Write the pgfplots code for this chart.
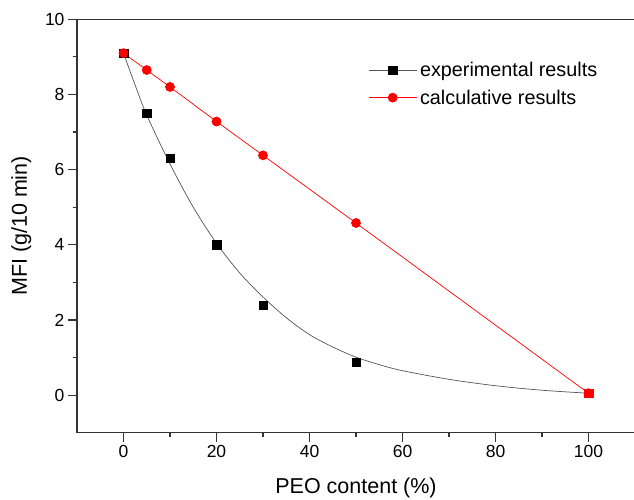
\documentclass[border=0pt]{standalone}
\usepackage{fontspec}
\setmainfont{Liberation Sans}
\usepackage{pgfplots}
\pgfplotsset{compat=1.18}
\definecolor{spine}{HTML}{333333}
\definecolor{fitline}{HTML}{555555}

\begin{document}
\begin{tikzpicture}
\begin{axis}[
  scale only axis,
  width=558pt, height=413.4pt,
  xmin=-10, xmax=110, ymin=-1, ymax=10,
  xtick={0,20,...,100}, ytick={0,2,...,10},
  minor x tick num=1, minor y tick num=1,
  xtick pos=bottom, ytick pos=left,
  tick align=outside,
  major tick length=9pt, minor tick length=4.5pt,
  axis line style={spine, line width=1.4pt},
  every tick/.style={spine, line width=1.2pt},
  /pgf/number format/assume math mode=true,
  tick label style={font=\fontsize{17.5}{20}\selectfont, black},
  xlabel={PEO content (\%)},
  ylabel={MFI (g/10 min)},
  label style={font=\fontsize{21.5}{25}\selectfont},
  xlabel style={at={(axis description cs:0.5,-0.134)}, anchor=center},
  ylabel style={at={(axis description cs:-0.1,0.5)}, anchor=center},
  legend image code/.code={\draw[mark repeat=2,mark phase=2,#1] plot coordinates {(0pt,0pt) (24pt,0pt) (48pt,0pt)};},
  legend style={at={(axis description cs:0.52,0.906)}, anchor=north west, draw=none, fill=none,
    font=\fontsize{19.8}{22}\selectfont, row sep=5.5pt, inner sep=1pt,
    nodes={inner sep=3pt}},
  legend cell align=left,
]

% fitted curve through the experimental values
\addplot[color=fitline, line width=0.7pt, smooth, forget plot]
  coordinates {
    (0,9.1)(2.5,8.25)(5,7.45)(10,6.15)(15,5.0)(20,4.04)(25,3.25)
    (30,2.61)(35,2.06)(40,1.61)(45,1.28)(50,1.01)(55,0.81)(60,0.65)(70,0.42)
    (80,0.25)(90,0.13)(100,0.05)
  };

\addplot[only marks, mark=square*, mark size=4.2pt, color=black, forget plot]
  coordinates {(0,9.1)(5,7.5)(10,6.3)(20,4.0)(30,2.4)(50,0.88)(100,0.05)};

\addplot[color=red, line width=0.7pt, mark=*, mark size=4.5pt, forget plot]
  coordinates {(0,9.1)(5,8.65)(10,8.2)(20,7.28)(30,6.38)(50,4.58)(100,0.05)};

\addplot[only marks, mark=square*, mark size=4.2pt, color=red, forget plot]
  coordinates {(100,0.05)};

\addlegendimage{color=fitline, line width=0.7pt, mark=square*, mark size=4.2pt, mark options={black}}
\addlegendentry{experimental results}
\addlegendimage{color=red, line width=0.7pt, mark=*, mark size=4.5pt}
\addlegendentry{calculative results}

\end{axis}
\pgfresetboundingbox
\path (-77pt,-67.3pt) rectangle (557pt,432.7pt);
\end{tikzpicture}
\end{document}
